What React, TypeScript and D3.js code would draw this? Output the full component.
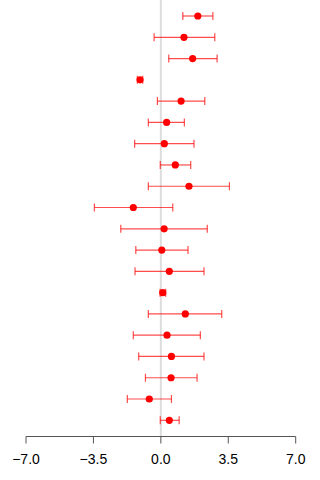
import React from "react";
import * as d3 from "d3";

// Estimates with lower / upper interval bounds, one entry per row (top to bottom)
const estimates = [1.92, 1.2, 1.65, -1.08, 1.05, 0.3, 0.18, 0.75, 1.46, -1.43, 0.17, 0.05, 0.44, 0.1, 1.27, 0.32, 0.55, 0.53, -0.6, 0.44];
const lowers = [1.14, -0.35, 0.41, -1.22, -0.18, -0.65, -1.36, -0.03, -0.65, -3.45, -2.08, -1.3, -1.34, -0.04, -0.65, -1.43, -1.15, -0.8, -1.74, -0.03];
const uppers = [2.7, 2.8, 2.92, -0.94, 2.28, 1.22, 1.72, 1.55, 3.56, 0.62, 2.41, 1.41, 2.24, 0.25, 3.16, 2.05, 2.24, 1.88, 0.55, 0.95];
const xTicks = [-7, -3.5, 0, 3.5, 7];

export default function App() {
  const width = 320;
  const height = 480;
  const x = d3.scaleLinear().domain([-7, 7]).range([26, 295.7]);
  const rows = estimates.map((_, i) => i);
  const y = d3.scaleLinear().domain([0, rows.length - 1]).range([16, 420.3]);
  const axisY = 436.5;
  const cap = 4;
  const fmt = d3.format(".1f");

  return (
    <svg
      width={width}
      height={height}
      style={{ position: "absolute", left: 0, top: 0, background: "#fff" }}
      fontFamily="'Liberation Sans', Arial, sans-serif"
    >
      <line x1={x(0)} x2={x(0)} y1={0} y2={axisY} stroke="#dddddd" strokeWidth={2} />
      {rows.map((i) => {
        const cy = y(i);
        return (
          <g key={i}>
            <g stroke="#ff0000" strokeOpacity={0.7} strokeWidth={1.2}>
              <line x1={x(lowers[i])} x2={x(uppers[i])} y1={cy} y2={cy} />
              <line x1={x(lowers[i])} x2={x(lowers[i])} y1={cy - cap} y2={cy + cap} />
              <line x1={x(uppers[i])} x2={x(uppers[i])} y1={cy - cap} y2={cy + cap} />
            </g>
            <circle cx={x(estimates[i])} cy={cy} r={3.6} fill="#ff0000" />
          </g>
        );
      })}
      <g stroke="#555555" strokeWidth={1}>
        <line x1={x(-7)} x2={x(7)} y1={axisY} y2={axisY} />
        {xTicks.map((t) => (
          <line key={t} x1={x(t)} x2={x(t)} y1={axisY} y2={axisY + 7} />
        ))}
      </g>
      {xTicks.map((t) => (
        <text key={t} x={x(t)} y={axisY + 27} textAnchor="middle" fontSize={14} fill="#000">
          {fmt(t)}
        </text>
      ))}
    </svg>
  );
}
